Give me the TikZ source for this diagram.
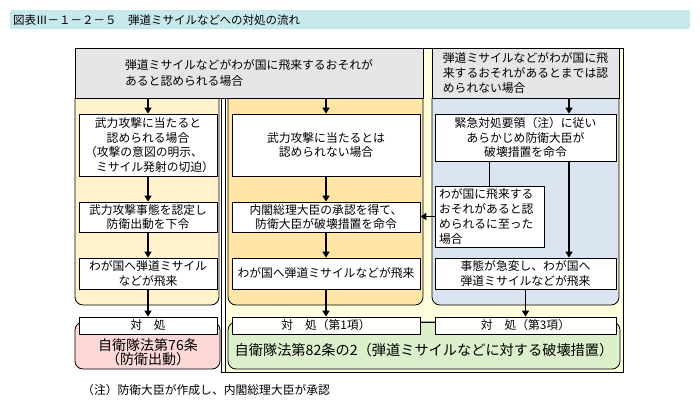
\documentclass[tikz,border=0pt]{standalone}
\usepackage{fontspec}
\newfontfamily\jp{Noto Sans CJK JP}
\usetikzlibrary{arrows.meta}
\definecolor{titlec}{RGB}{200,233,235}
\definecolor{grayc}{RGB}{230,230,230}
\definecolor{leftc}{RGB}{255,242,204}
\definecolor{midc}{RGB}{255,230,166}
\definecolor{rightc}{RGB}{219,229,241}
\definecolor{framec}{RGB}{255,255,221}
\definecolor{pinkc}{RGB}{252,217,214}
\definecolor{greenc}{RGB}{221,240,204}
\begin{document}
\begin{tikzpicture}[x=1pt,y=-1pt,
  box/.style={draw, fill=white, line width=0.8pt, inner sep=0pt, align=center,
    font=\jp\fontsize{11.8}{14.6}\selectfont},
  gbox/.style={draw, fill=grayc, line width=0.8pt, inner sep=0pt, align=left},
  arr/.style={line width=1.6pt, -{Triangle[width=7pt,length=6pt]}},
  plain/.style={line width=1.6pt},
  panel/.style={line width=0.8pt, rounded corners=8pt}]
\useasboundingbox (0,0) rectangle (700,410);
% title
\node[fill=titlec, rounded corners=2pt, minimum width=680pt, minimum height=19pt, inner sep=0pt] (T) at (350,19.5) {};
\node[anchor=west, inner sep=0pt, font=\jp\fontsize{11.5}{14}\selectfont] (TT) at (13,20) {図表Ⅲ－１－２－５　弾道ミサイルなどへの対処の流れ};
% outer frame
\draw[fill=framec, line width=0.8pt] (221.5,48) rectangle (623,372.5);
\fill[white] (222,98) rectangle (225,372);
\draw[line width=0.8pt] (225,98) -- (225,372.5);
% panels
\filldraw[panel, fill=leftc] (75,98) -- (75,305) -- (219,305) -- (219,98);
\filldraw[panel, fill=midc] (228,98) -- (228,305) -- (423,305) -- (423,98);
\filldraw[panel, fill=rightc] (432,98) -- (432,305) -- (619,305) -- (619,98);
% gray headers
\node[gbox, minimum width=348pt, minimum height=50pt, font=\jp\fontsize{11.8}{16}\selectfont] (G1) at (249,73)
  {弾道ミサイルなどがわが国に飛来するおそれが\\あると認められる場合};
\node[gbox, minimum width=187pt, minimum height=50pt, font=\jp\fontsize{11.8}{15}\selectfont] (G2) at (525.5,73)
  {弾道ミサイルなどがわが国に飛\\来するおそれがあるとまでは認\\められない場合};
% left column
\node[box, minimum width=138pt, minimum height=62pt] (L1) at (148,145)
  {武力攻撃に当たると\\認められる場合\\\hspace*{-8pt}（攻撃の意図の明示、\\\hspace*{14pt}ミサイル発射の切迫）};
\node[box, minimum width=138pt, minimum height=30pt] (L2) at (148,217)
  {武力攻撃事態を認定し\\防衛出動を下令};
\node[box, minimum width=138pt, minimum height=31pt] (L3) at (148,273.5)
  {わが国へ弾道ミサイル\\などが飛来};
% middle column
\node[box, minimum width=188pt, minimum height=62pt] (M1) at (326,145)
  {武力攻撃に当たるとは\\認められない場合};
\node[box, minimum width=188pt, minimum height=30pt] (M2) at (326,217)
  {内閣総理大臣の承認を得て、\\防衛大臣が破壊措置を命令};
\node[box, minimum width=188pt, minimum height=31pt] (M3) at (326,273.5)
  {わが国へ弾道ミサイルなどが飛来};
% right column
\node[box, minimum width=181pt, minimum height=47pt] (R1) at (525.5,137.5)
  {緊急対処要領（注）に従い\\あらかじめ防衛大臣が\\破壊措置を命令};
\node[box, minimum width=109pt, minimum height=61pt, text width=101pt, align=left, font=\jp\fontsize{11.8}{15}\selectfont] (R2) at (489.5,216.5)
  {わが国に飛来する\\おそれがあると認\\められるに至った\\場合};
\node[box, minimum width=181pt, minimum height=31pt] (R3) at (525.5,273.5)
  {事態が急変し、わが国へ\\弾道ミサイルなどが飛来};
% bottom boxes
\filldraw[line width=0.8pt, fill=pinkc, rounded corners=8pt] (75,322) rectangle (220,369);
\filldraw[line width=0.8pt, fill=greenc, rounded corners=8pt] (228,322) rectangle (620,369);
\node[box, minimum width=138pt, minimum height=17pt] (H1) at (148,325.5) {対　処};
\node[box, minimum width=188pt, minimum height=17pt] (H2) at (326,325.5) {対　処（第1項）};
\node[box, minimum width=181pt, minimum height=17pt] (H3) at (525.5,325.5) {対　処（第3項）};
\node[inner sep=0pt, align=center, font=\jp\fontsize{14}{14.5}\selectfont] (P) at (148,352) {自衛隊法第76条\\（防衛出動）};
\node[inner sep=0pt, font=\jp\fontsize{14.2}{15}\selectfont] (Q) at (424,350) {自衛隊法第82条の2（弾道ミサイルなどに対する破壊措置）};
\node[anchor=west, inner sep=0pt, font=\jp\fontsize{11.8}{14}\selectfont] (N) at (82,390) {（注）防衛大臣が作成し、内閣総理大臣が承認};
% connectors
\draw[arr] (G1.south -| L1.north) -- (L1.north);
\draw[arr] (L1) -- (L2);
\draw[arr] (L2) -- (L3);
\draw[arr] (L3) -- (H1);
\draw[arr] (G1.south -| M1.north) -- (M1.north);
\draw[arr] (M1) -- (M2);
\draw[arr] (M2) -- (M3);
\draw[arr] (M3) -- (H2);
\coordinate (RA) at ([xshift=43.5pt]R1.north);
\coordinate (RB) at ([xshift=43.5pt]R1.south);
\draw[arr] (G2.south -| RA) -- (RA);
\draw[arr] (RB) -- (RB |- R3.north);
\draw[plain] (R1.south -| R2.north) -- (R2.north);
\draw[arr] (R2.west) -- (R2.west -| M2.east);
\draw[arr] (R3) -- (H3);
\draw[line width=0.8pt] ([yshift=3.5pt]H2.east) -- ([yshift=3.5pt]H3.west);
\end{tikzpicture}
\end{document}
